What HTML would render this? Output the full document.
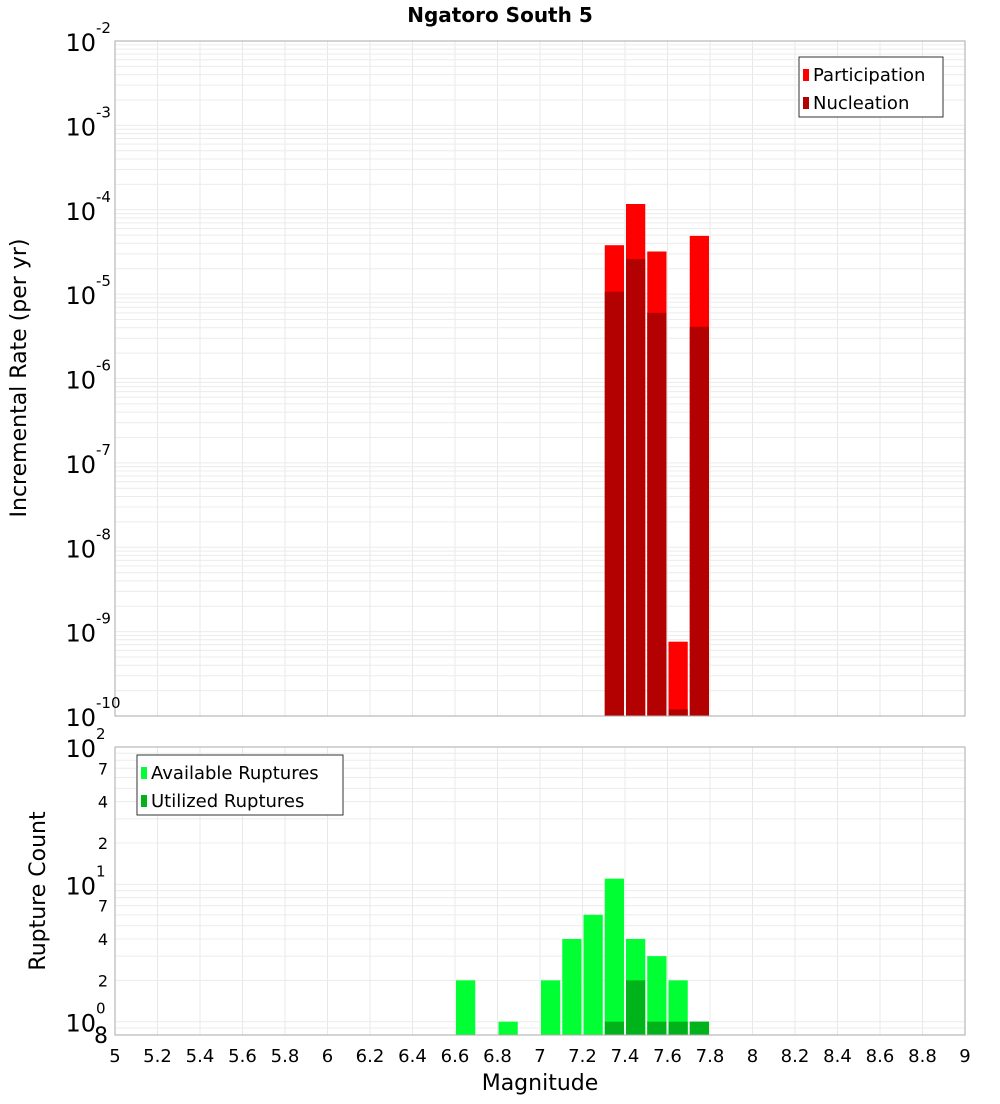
<!DOCTYPE html>
<html><head><meta charset="utf-8"><style>
body{margin:0;background:#fff;font-family:"DejaVu Sans","Liberation Sans",sans-serif}
</style></head><body>
<svg id="c" width="1000" height="1100" xmlns="http://www.w3.org/2000/svg" font-family="DejaVu Sans, Liberation Sans, sans-serif"></svg>
<script>
const mags=[7.35,7.45,7.55,7.65,7.75];
const participation=[3.8e-5,1.17e-4,3.2e-5,7.6e-10,4.9e-5];
const nucleation=[1.07e-5,2.6e-5,6e-6,1.2e-10,4.1e-6];
const availMags=[6.65,6.85,7.05,7.15,7.25,7.35,7.45,7.55,7.65,7.75];
const available=[2,1,2,4,6,11,4,3,2,1];
const utilMags=[7.35,7.45,7.55,7.65,7.75];
const utilized=[1,2,1,1,1];
const xTicks=["5","5.2","5.4","5.6","5.8","6","6.2","6.4","6.6","6.8","7","7.2","7.4","7.6","7.8","8","8.2","8.4","8.6","8.8","9"];

const svg=document.getElementById('c');const NS='http://www.w3.org/2000/svg';
function el(t,a,p,txt){const e=document.createElementNS(NS,t);for(const k in a)e.setAttribute(k,a[k]);if(txt!=null)e.textContent=txt;(p||svg).appendChild(e);return e;}
const X0=115,X1=965;
const x=m=>X0+(m-5)/4*(X1-X0);
const T0=41,T1=716;const yT=v=>T0+(-2-Math.log10(v))/8*(T1-T0);
const B0=747,B1=1035;const bMin=Math.log10(0.8);const yB=v=>B0+(2-Math.log10(v))/(2-bMin)*(B1-B0);

// grids
const g=el('g',{});
for(let m=5;m<=9.001;m+=0.2){const xx=x(m);el('line',{x1:xx,x2:xx,y1:T0,y2:T1,stroke:'#e8e8e8'},g);el('line',{x1:xx,x2:xx,y1:B0,y2:B1,stroke:'#e8e8e8'},g);}
for(let d=-10;d<-2;d++)for(let k=1;k<10;k++){const yy=yT(k*Math.pow(10,d));el('line',{x1:X0,x2:X1,y1:yy,y2:yy,stroke:'#ececec'},g);}
for(let d=-1;d<2;d++)for(let k=1;k<10;k++){const v=k*Math.pow(10,d);if(v<0.8)continue;const yy=yB(v);el('line',{x1:X0,x2:X1,y1:yy,y2:yy,stroke:'#ececec'},g);}

// top bars
const bw=x(5.1)-x(5)-2;
mags.forEach((m,i)=>{let r=el('rect',{x:x(m)-bw/2,y:yT(participation[i]),width:bw,height:T1-yT(participation[i]),fill:'#ff0000'});

r=el('rect',{x:x(m)-bw/2,y:yT(nucleation[i]),width:bw,height:T1-yT(nucleation[i]),fill:'#b30000'});
});
availMags.forEach((m,i)=>{const r=el('rect',{x:x(m)-bw/2,y:yB(available[i]),width:bw,height:B1-yB(available[i]),fill:'#00ff33'});
});
utilMags.forEach((m,i)=>{const r=el('rect',{x:x(m)-bw/2,y:yB(utilized[i]),width:bw,height:B1-yB(utilized[i]),fill:'#00b31a'});
});

el('rect',{x:X0,y:T0,width:X1-X0,height:T1-T0,fill:'none',stroke:'#aaa'});
el('rect',{x:X0,y:B0,width:X1-X0,height:B1-B0,fill:'none',stroke:'#aaa'});

// title
let t=el('text',{x:500,y:22,'text-anchor':'middle','font-size':20,'font-weight':'bold'},null,'Ngatoro South 5');


// top y ticks
for(let d=-2;d>=-10;d--){const yy=yT(Math.pow(10,d));
const tx=el('text',{x:96,y:yy+10,'text-anchor':'end','font-size':24},null,'10');

el('text',{x:96,y:yy-8,'font-size':15},null,String(d));}
// bottom y ticks
[[100,'10','2'],[10,'10','1'],[1,'10','0']].forEach(([v,b,e])=>{const yy=yB(v);
const tx=el('text',{x:96,y:yy+10,'text-anchor':'end','font-size':24},null,b);

el('text',{x:96,y:yy-8,'font-size':15},null,e);});
[[7,'7'],[4,'4'],[2,'2'],[70,'7'],[40,'4'],[20,'2'],[0.8,'8']].forEach(([v,s])=>{const yy=yB(v);
el('text',{x:108,y:yy+(v==0.8?8:6),'text-anchor':'end','font-size':v==0.8?22:16},null,s);});

// x ticks
xTicks.forEach(s=>{const tx=el('text',{x:x(parseFloat(s)),y:1062,'text-anchor':'middle','font-size':18},null,s);
});
t=el('text',{x:540,y:1090,'text-anchor':'middle','font-size':22},null,'Magnitude');

t=el('text',{x:0,y:0,'text-anchor':'middle','font-size':22,transform:'translate(26,378) rotate(-90)'},null,'Incremental Rate (per yr)');

t=el('text',{x:0,y:0,'text-anchor':'middle','font-size':22,transform:'translate(45,891) rotate(-90)'},null,'Rupture Count');


// legends
function legend(lx,ly,w,items,name){const lg=el('g',{});
el('rect',{x:lx,y:ly,width:w,height:60,fill:'#fff',stroke:'#333'},lg);
items.forEach(([c,s],i)=>{el('rect',{x:lx+4,y:ly+12+i*28,width:6,height:12,fill:c},lg);
el('text',{x:lx+14,y:ly+24+i*28,'font-size':18},lg,s);});}
legend(799,57,144,[['#ff0000','Participation'],['#b30000','Nucleation']],'legend-top');
legend(137,755,206,[['#00ff33','Available Ruptures'],['#00b31a','Utilized Ruptures']],'legend-bottom');
</script>
</body></html>
